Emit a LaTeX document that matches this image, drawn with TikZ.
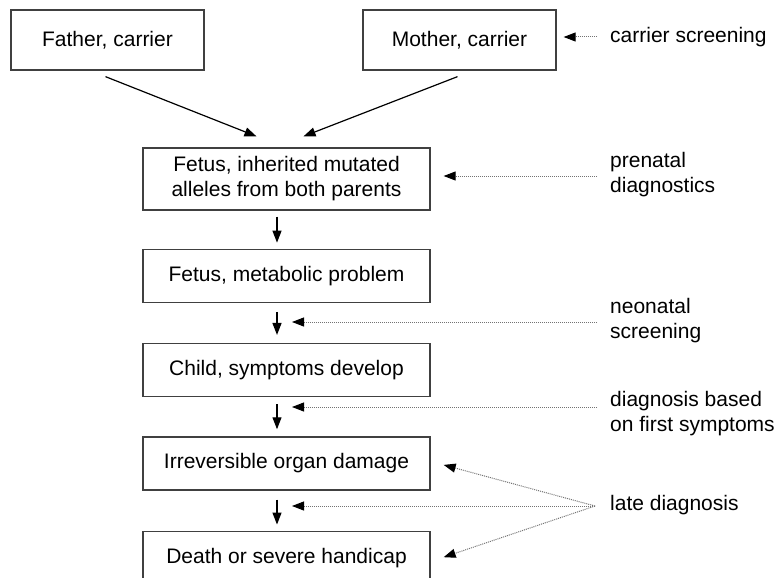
\documentclass[tikz,border=0pt]{standalone}
\usepackage{fontspec}
\setmainfont{Liberation Sans}
\usetikzlibrary{calc,positioning,arrows.meta}

\begin{document}
\begin{tikzpicture}[x=1pt,y=-1pt,
    every node/.style={font=\fontsize{21}{25}\selectfont},
    box/.style={draw=black!75, line width=1.3pt, align=center, minimum width=287pt, minimum height=53pt, inner sep=0pt},
    lbl/.style={anchor=west, align=left, inner sep=0pt},
    flow/.style={-{Triangle[length=12pt,width=9pt]}, line width=1.2pt},
    hint/.style={-{Triangle[length=12pt,width=9pt,color=black]}, black!55, dash pattern=on 1pt off 1pt, line width=1pt}]
    \useasboundingbox (0,0) rectangle (782,578);

    % Parents
    \node[box, minimum width=193pt, minimum height=60pt] (father) at (107.5,40) {Father, carrier};
    \node[box, minimum width=193pt, minimum height=60pt] (mother) at (459.5,40) {Mother, carrier};

    % Course of the disease
    \node[box, minimum height=62pt] (fetus) at (286.5,179) {Fetus, inherited mutated\\alleles from both parents};
    \node[box, below=38pt of fetus] (meta) {Fetus, metabolic problem};
    \node[box, below=40pt of meta] (child) {Child, symptoms develop};
    \node[box, below=39pt of child] (organ) {Irreversible organ damage};
    \node[box, below=40pt of organ] (death) {Death or severe handicap};

    % Diagnosis labels
    \node[lbl] (carrier) at (610,37) {carrier screening};
    \node[lbl] (prenatal) at (610,175) {prenatal\\diagnostics};
    \node[lbl] (neonatal) at (610,320.5) {neonatal\\screening};
    \node[lbl] (firstsym) at (610,413.5) {diagnosis based\\on first symptoms};
    \node[lbl] (late) at (610,505) {late diagnosis};

    % Solid arrows
    \coordinate (ax) at (277,0);
    \draw[flow] ($(father.south)+(-2,6)$) -- ($(fetus.north)+(-30,-11)$);
    \draw[flow] ($(mother.south)+(-2,6)$) -- ($(fetus.north)+(17,-11)$);
    \draw[flow] ($(fetus.south -| ax)+(0,6)$) -- ($(meta.north -| ax)+(0,-6)$);
    \draw[flow] ($(meta.south -| ax)+(0,9)$) -- ($(child.north -| ax)+(0,-8)$);
    \draw[flow] ($(child.south -| ax)+(0,7)$) -- ($(organ.north -| ax)+(0,-7)$);
    \draw[flow] ($(organ.south -| ax)+(0,9)$) -- ($(death.north -| ax)+(0,-6)$);

    % Dotted arrows
    \draw[hint] ($(carrier.west)+(-13,0)$) -- ($(carrier.west -| mother.east)+(7,0)$);
    \draw[hint] ($(prenatal.west)+(-13,1)$) -- ($(prenatal.west -| fetus.east)+(13,1)$);
    \draw[hint] ($(neonatal.west)+(-13,1.5)$) -- ($(neonatal.west -| ax)+(15,1.5)$);
    \draw[hint] ($(firstsym.west)+(-13,-6.5)$) -- ($(firstsym.west -| ax)+(15,-6.5)$);
    \coordinate (lp) at ($(late.west)+(-15,1)$);
    \draw[hint] (lp) -- ($(organ.east)+(13,1.5)$);
    \draw[hint] (lp) -- ($(lp -| ax)+(15,0)$);
    \draw[hint] (lp) -- ($(death.east)+(13,-0.5)$);
\end{tikzpicture}
\end{document}
